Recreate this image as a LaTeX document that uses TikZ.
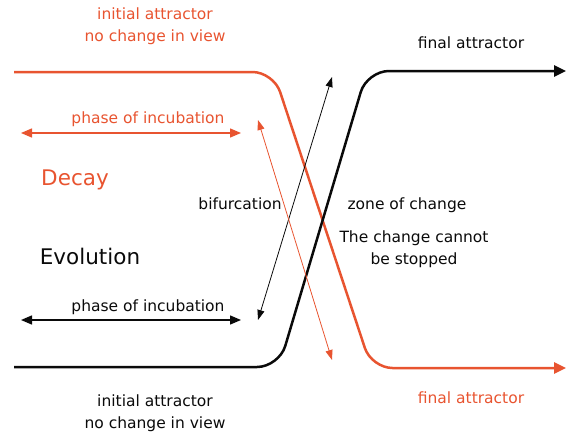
\documentclass[tikz,border=0pt]{standalone}
\usepackage{fontspec}
\setmainfont{DejaVu Sans}
\usetikzlibrary{arrows.meta}
\definecolor{rd}{RGB}{232,84,48}
\definecolor{bk}{RGB}{10,10,10}
\tikzset{
  txt/.style={font=\fontsize{15.5}{22}\selectfont, align=center, inner sep=0pt},
  big/.style={font=\fontsize{21.5}{26}\selectfont, inner sep=0pt},
  thick main/.style={line width=2.5pt, -{Triangle[length=12pt,width=11pt]}},
  hdbl/.style={line width=1.4pt, {Triangle[length=11pt,width=9pt]}-{Triangle[length=11pt,width=9pt]}},
  tdbl/.style={line width=0.8pt, {Triangle[length=10pt,width=7pt]}-{Triangle[length=10pt,width=7pt]}},
}
\begin{document}
\begin{tikzpicture}[x=1pt,y=-1pt]
\useasboundingbox (0,0) rectangle (567,434);
% coordinates
\coordinate (r0) at (14,72);
\coordinate (r1) at (273.5,72);
\coordinate (r2) at (371.5,368);
\coordinate (r3) at (566,368);
\coordinate (b0) at (14,367);
\coordinate (b1) at (279,367);
\coordinate (b2) at (367,71);
\coordinate (b3) at (566,71);
\coordinate (ha1) at (21,133);
\coordinate (ha2) at (241,133);
\coordinate (hb1) at (21,320);
\coordinate (hb2) at (241,320);
\coordinate (ta1) at (258,320);
\coordinate (ta2) at (332,77);
\coordinate (tb1) at (258,120);
\coordinate (tb2) at (332,360);
% main curves
\draw[rd, thick main, rounded corners=21pt] (r0) -- (r1) -- (r2) -- (r3);
\draw[bk, thick main, rounded corners=22pt] (b0) -- (b1) -- (b2) -- (b3);
% horizontal arrows
\draw[rd, hdbl] (ha1) -- (ha2);
\draw[bk, hdbl] (hb1) -- (hb2);
% thin arrows
\draw[bk, tdbl] (ta1) -- (ta2);
\draw[rd, tdbl] (tb1) -- (tb2);
% texts
\node[txt, text=rd] (t1) at (155,26) {initial attractor\\no change in view};
\node[txt, text=rd] (t2) at (148,119) {phase of incubation};
\node[big, text=rd] (t3) at (75,180) {Decay};
\node[big, text=bk] (t4) at (90,256) {Evolution};
\node[txt, text=bk] (t5) at (240,204) {bifurcation};
\node[txt, text=bk] (t6) at (407,205) {zone of change};
\node[txt, text=bk] (t7) at (414,249) {The change cannot\\be stopped};
\node[txt, text=bk] (t8) at (148,307) {phase of incubation};
\node[txt, text=bk] (t9) at (471,43) {final attractor};
\node[txt, text=rd] (t10) at (471,398) {final attractor};
\node[txt, text=bk] (t11) at (155,413) {initial attractor\\no change in view};
\end{tikzpicture}
\end{document}
